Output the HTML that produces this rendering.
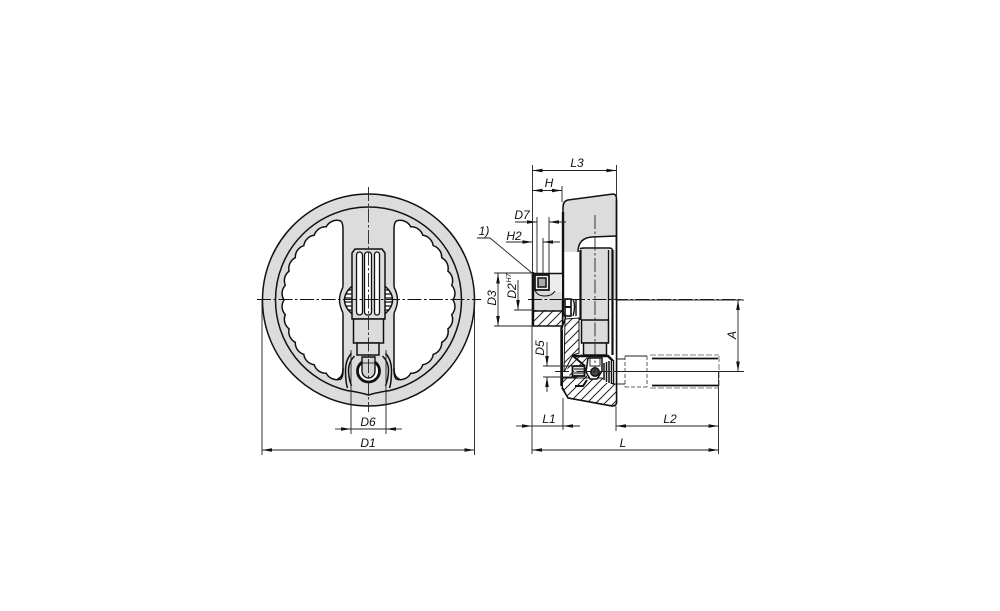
<!DOCTYPE html>
<html><head><meta charset="utf-8"><style>
html,body{margin:0;padding:0;background:#fff}
svg{display:block;filter:blur(.35px)}
text{font-family:"Liberation Sans",sans-serif;font-style:italic;font-size:12px;fill:#111}
.t{stroke:#222;stroke-width:.9;fill:none}
.o{stroke:#111;stroke-width:1.5;fill:none}
.k{stroke:#111;stroke-width:2.4;fill:none}
.c{stroke:#222;stroke-width:.9;fill:none;stroke-dasharray:14 2.5 2.5 2.5}
</style></head><body>
<svg width="1000" height="611" viewBox="0 0 1000 611" xmlns="http://www.w3.org/2000/svg">
<defs>
<marker id="a" markerUnits="userSpaceOnUse" markerWidth="11" markerHeight="6" refX="10" refY="2" orient="auto-start-reverse"><path d="M0,0.2L10,2L0,3.8z" fill="#111"/></marker>
<pattern id="h" width="9" height="9" patternUnits="userSpaceOnUse"><path d="M-1,10L10,-1M-1,1L1,-1M8,10L10,8" stroke="#222" stroke-width="1"/></pattern>
</defs>

<!-- LEFT VIEW -->
<g transform="translate(368.5,300)">
<circle r="106" fill="#dcdcdc" stroke="#111" stroke-width="1.5"/>
<path class="o" d="M-93,0A93,93 0 0 1 93,0A93,93 0 0 1 21,90.6Q10,92 0,95Q-10,92 -21,90.6A93,93 0 0 1 -93,0"/>
<path fill="#fff" stroke="#111" stroke-width="1.5" d="M25.5,-70Q25.5,-79 28.9,-79.4A12,12 0 0 1 42.3,-73.2A12,12 0 0 1 54.3,-64.7A12,12 0 0 1 64.7,-54.3A12,12 0 0 1 73.2,-42.3A12,12 0 0 1 79.4,-28.9A12,12 0 0 1 83.2,-14.7A12,12 0 0 1 84.5,0A12,12 0 0 1 83.2,14.7A12,12 0 0 1 79.4,28.9A12,12 0 0 1 73.2,42.3A12,12 0 0 1 64.7,54.3A12,12 0 0 1 54.3,64.7A12,12 0 0 1 42.3,73.2A12,12 0 0 1 28.9,79.4Q25.5,79 25.5,70Z"/>
<path fill="#fff" stroke="#111" stroke-width="1.5" transform="scale(-1,1)" d="M25.5,-70Q25.5,-79 28.9,-79.4A12,12 0 0 1 42.3,-73.2A12,12 0 0 1 54.3,-64.7A12,12 0 0 1 64.7,-54.3A12,12 0 0 1 73.2,-42.3A12,12 0 0 1 79.4,-28.9A12,12 0 0 1 83.2,-14.7A12,12 0 0 1 84.5,0A12,12 0 0 1 83.2,14.7A12,12 0 0 1 79.4,28.9A12,12 0 0 1 73.2,42.3A12,12 0 0 1 64.7,54.3A12,12 0 0 1 54.3,64.7A12,12 0 0 1 42.3,73.2A12,12 0 0 1 28.9,79.4Q25.5,79 25.5,70Z"/>
<!-- bulge at grip -->
<path fill="#dcdcdc" stroke="#111" stroke-width="1.4" d="M-25.5,-13Q-29,-6 -29,0Q-29,6 -25.5,13H25.5Q29,6 29,0Q29,-6 25.5,-13Z"/>
<path fill="#dcdcdc" stroke="none" d="M-25,-14H25V14H-25Z"/>
<path fill="#fff" stroke="#111" stroke-width="1.5" d="M-15,-15Q-24,-8 -24,0Q-24,8 -15,15Z"/>
<path fill="#fff" stroke="#111" stroke-width="1.5" d="M15,-15Q24,-8 24,0Q24,8 15,15Z"/>
<path d="M-23,-6H-15M-24,-2H-15M-24,2H-15M-23,6H-15M-21,-10H-15M-21,10H-15M15,-6H23M15,-2H24M15,2H24M15,6H23M15,-10H21M15,10H21" stroke="#111" stroke-width="1.2"/>
<!-- grip -->
<path fill="#dcdcdc" stroke="#111" stroke-width="1.5" d="M-16.5,19V-47L-13.5,-51H13.5L16.5,-47V19Z"/>
<rect x="-12" y="-48" width="6" height="63" rx="3" fill="#fff" stroke="#111" stroke-width="1.3"/>
<rect x="-4" y="-48" width="7" height="63" rx="3" fill="#fff" stroke="#111" stroke-width="1.3"/>
<rect x="6" y="-48" width="5" height="63" rx="2.5" fill="#fff" stroke="#111" stroke-width="1.3"/>
<path d="M-15,19H15V43H-15Z" fill="#dcdcdc" stroke="#111" stroke-width="1.5"/>
<path d="M-11.5,43H10.5V55H-11.5Z" fill="#dcdcdc" stroke="#111" stroke-width="1.5"/>
<!-- hub leaves -->
<path class="o" d="M-17,53Q-23,60 -23,70Q-23,82 -21,88M17,53Q23,60 23,70Q23,82 21,88"/>
<path class="o" d="M-14,56Q-20,62 -20,70Q-20,78 -17,86M14,56Q20,62 20,70Q20,78 17,86"/>
<path class="o" d="M-25.500,68Q-25.500,77 -31,79M25.500,68Q25.500,77 31,79"/>
<circle cx="0" cy="71" r="11" fill="#fff" stroke="#111" stroke-width="2.8"/>
<path d="M-6.5,57V71A6.5,7 0 0 0 6.5,71V57Z" fill="#d4d4d4" stroke="#111" stroke-width="1.4"/>
<path class="t" d="M-6.5,63H6.5"/>
</g>
<path class="c" d="M368.5,187V412"/>
<path class="c" d="M257,299.5H481" style="stroke:#111;stroke-width:1"/>
<path class="t" d="M351,350V434M386,350V434M262,300V455M474.500,300V455"/>
<path class="t" d="M351,429H386" />
<path class="t" marker-end="url(#a)" d="M335,429H351"/>
<path class="t" marker-end="url(#a)" d="M402,429H386"/>
<path class="t" marker-start="url(#a)" marker-end="url(#a)" d="M262,450H474.500"/>
<text x="368" y="426" text-anchor="middle">D6</text>
<text x="368" y="447" text-anchor="middle">D1</text>

<!-- RIGHT VIEW -->
<path fill="#dcdcdc" stroke="none" d="M562,203Q563,200 567,200L613,194Q616,195 616,198V300H562Z"/>
<path fill="#fff" d="M564,252H580V300H564ZM578,252Q578,238 592,237L615,237V250H578Z"/>
<path class="o" d="M578,252Q578,238 592,237L616,236"/>
<path class="o" d="M563,300V208Q563,201 568,200L613,194Q616,194 616.500,198V403Q616,406 612,406L568,398L563,388V330"/>
<path class="k" d="M563,212V325L561.500,328V386"/>
<path fill="#fff" d="M564.500,300H616V403L612,405L568,397L563,387V330Z"/>
<path class="o" d="M616.500,200V403Q616,406 612,406L568,398L562,388"/>
<!-- grip side -->
<rect x="581" y="249" width="28" height="71" fill="#dcdcdc"/>
<path d="M580.500,250V320M612.500,250V355" stroke="#111" stroke-width="2.200" fill="none"/>
<path d="M608.500,250V320" stroke="#111" stroke-width="1.300" fill="none"/>
<path class="o" d="M580,249Q581,248 584,248H609Q612,248 612.500,250"/>
<!-- hatched body -->
<path fill="url(#h)" stroke="#111" stroke-width="1" d="M565,319L579,318V353L573,355L564,372Z"/>
<rect x="581.500" y="320" width="27" height="23" fill="#dcdcdc" stroke="#111" stroke-width="1.5"/>
<rect x="583.500" y="343" width="23" height="12" fill="#dcdcdc" stroke="#111" stroke-width="1.5"/>
<!-- lower section -->
<path fill="url(#h)" stroke="#111" stroke-width="1" d="M563,378H602L613,384H616.500V403Q616,406 612,406L568,398L562,388Z"/>
<path fill="url(#h)" d="M573,355H587V378H572L566,372Z"/>
<path class="k" d="M572,356H608L613,361V384"/>
<path d="M603,361H613V383H603Z" fill="#fff"/>
<path d="M604,363V380M606.500,362V382M609,361V383M611.500,361V384" stroke="#111" stroke-width="1.500"/>
<path d="M588,358H602V371L597,379H590L586,372Z" fill="#fff" stroke="#111" stroke-width="1.500"/>
<path d="M590,358V366H600V358" class="t"/>
<circle cx="595" cy="372" r="4.200" fill="#444" stroke="#111" stroke-width="1.500"/>
<rect x="572.500" y="366" width="12" height="10" fill="#dcdcdc" stroke="#111" stroke-width="1.800"/>
<path class="t" d="M574,369H584M574,373H584"/>
<path d="M573,356L585,366M575,386H583L587,380" stroke="#111" stroke-width="2" fill="none"/>
<!-- hub -->
<rect x="533" y="273.500" width="29" height="37" fill="#dcdcdc"/>
<rect x="550" y="274" width="12" height="18" fill="#ececec"/>
<rect x="533" y="310" width="30" height="15.500" fill="url(#h)"/>
<path d="M533,311H563M533,273.500H563" class="o"/>
<path d="M532.500,273V326H562.500L565.500,318L562.500,311V300" stroke="#111" stroke-width="1.500" fill="none"/>
<path d="M533,272V326" stroke="#111" stroke-width="2.400"/>
<path d="M535,275H549V290H535Z" fill="#eee" stroke="#111" stroke-width="1.700"/>
<rect x="538" y="278" width="8" height="9" fill="#aaa" stroke="#111" stroke-width="1.500"/>
<path class="o" d="M535,290Q537,296 545,296Q552,296 555,291" style="stroke-width:1.100"/>
<!-- pin -->
<rect x="565" y="299" width="6" height="17" fill="#fff" stroke="#111" stroke-width="1.600"/>
<path d="M573,299Q576,306 573,316M576,299V316" stroke="#111" stroke-width="1.400" fill="none"/>
<path d="M565,307H571" stroke="#111" stroke-width="2"/>
<!-- folded handle -->
<path class="t" d="M617,359H625M625,356H647M617,384H625"/>
<path d="M625,387H647M625,356V387M647,356V387" stroke="#333" stroke-width=".8" stroke-dasharray="4 2" fill="none"/>
<path d="M650,355H719M650,388H719M719,356V388" stroke="#555" stroke-width=".8" stroke-dasharray="6 2" fill="none"/>
<path d="M652,358.500H718M652,385.500H718" stroke="#111" stroke-width="1.800"/>
<!-- centre lines -->
<path class="c" d="M528,299.500H742" style="stroke:#111;stroke-width:1"/>
<path class="c" d="M555,371.500H744"/>
<path class="c" d="M595,215V370"/>
<!-- extension lines -->
<path class="t" d="M532.500,165V275M532,326V454M616.500,165V198M562,186V202M537,217V275M549,217V275M543,238V275"/>
<path class="t" d="M616,406V431M718.500,372V454M563,398V430M494,273H533M494,326H534M514,310H534M617,300H744M613,371.500H744"/>
<path class="t" d="M543,366H576M543,377H576"/>
<!-- dimensions -->
<path class="t" marker-start="url(#a)" marker-end="url(#a)" d="M532.500,170.500H616.500"/>
<path class="t" marker-start="url(#a)" marker-end="url(#a)" d="M532.500,190.500H562"/>
<path class="t" marker-end="url(#a)" d="M515,222H537"/>
<path class="t" marker-end="url(#a)" d="M566,222H549"/>
<path class="t" marker-end="url(#a)" d="M506,242H532.500"/>
<path class="t" marker-end="url(#a)" d="M560,242H543"/>
<path class="t" d="M477,238H490L532,273"/>
<path class="t" marker-start="url(#a)" marker-end="url(#a)" d="M498,273.500V326"/>
<path class="t" marker-end="url(#a)" d="M518,280V310"/>
<path class="t" marker-start="url(#a)" marker-end="url(#a)" d="M738,300V371.500"/>
<path class="t" marker-end="url(#a)" d="M547,342V366"/>
<path class="t" marker-end="url(#a)" d="M547,392V377"/>
<path class="t" marker-end="url(#a)" d="M516,426H532"/>
<path class="t" marker-end="url(#a)" d="M580,426H563"/>
<path class="t" d="M532,426H563"/>
<path class="t" marker-start="url(#a)" marker-end="url(#a)" d="M616,426H718.500"/>
<path class="t" marker-start="url(#a)" marker-end="url(#a)" d="M532,450H718.500"/>
<!-- labels -->
<text x="577" y="167" text-anchor="middle">L3</text>
<text x="549" y="187" text-anchor="middle">H</text>
<text x="522" y="219" text-anchor="middle">D7</text>
<text x="514" y="240" text-anchor="middle">H2</text>
<text x="484" y="235" text-anchor="middle">1)</text>
<text x="549" y="423" text-anchor="middle">L1</text>
<text x="670" y="423" text-anchor="middle">L2</text>
<text x="623" y="447" text-anchor="middle">L</text>
<text transform="translate(496,298) rotate(-90)" text-anchor="middle">D3</text>
<text transform="translate(516,291) rotate(-90)" text-anchor="middle">D2</text>
<text transform="translate(511,278) rotate(-90)" text-anchor="middle" style="font-size:7px">H7</text>
<text transform="translate(544,348) rotate(-90)" text-anchor="middle">D5</text>
<text transform="translate(736,335) rotate(-90)" text-anchor="middle">A</text>
</svg>
</body></html>
